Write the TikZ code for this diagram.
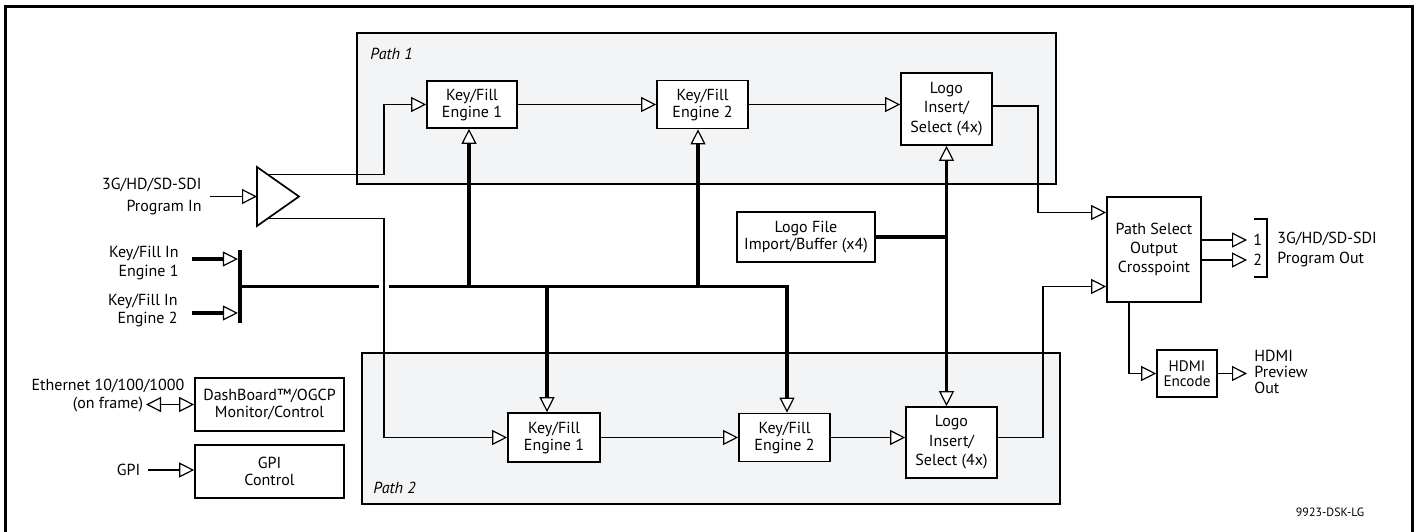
\documentclass[tikz,border=0pt]{standalone}
\usepackage{fontspec}
\setmainfont{PT Sans}
\usetikzlibrary{arrows.meta,positioning,shapes.geometric,calc}
\definecolor{pathgray}{RGB}{243,244,246}

\begin{document}
\begin{tikzpicture}[x=0.5pt,y=-0.5pt,every node/.style={font=\fontsize{8}{8.5}\selectfont},
  blk/.style={draw,fill=white,line width=0.85pt,align=center,inner sep=0pt},
  pathbox/.style={draw,fill=pathgray,line width=0.9pt,inner sep=0pt},
  lbl/.style={inner sep=0pt},
  sig/.style={line width=0.65pt},
  otri/.tip={Triangle[length=7.5pt,width=7.5pt,fill=white,line width=0.6pt]},
  arr/.style={sig,-otri},dblarr/.style={sig,otri-otri},
  bus/.style={line width=1.7pt},busarr/.style={bus,-otri},busdbl/.style={bus,otri-otri}]
\fill[white] (0,0) rectangle (1416,531);
\useasboundingbox (0,0) rectangle (1416,531);
\draw[line width=1.7pt] (5.5,560) -- (5.5,6.5) -- (1412.5,6.5) -- (1412.5,560);
% path panels
\node[pathbox,minimum width=349.5pt,minimum height=75.5pt] (path1) at (706.5,108.5) {};
\node[pathbox,minimum width=349pt,minimum height=75.5pt] (path2) at (711,428.5) {};
\node[lbl,anchor=base west,font=\fontsize{8}{9}\selectfont\itshape] (path1lbl) at (370,59) {Path 1};
\node[lbl,anchor=base west,font=\fontsize{8}{9}\selectfont\itshape] (path2lbl) at (373,493) {Path 2};
% blocks
\node[blk,minimum width=45pt,minimum height=23.5pt] (akf1) at (472,104.5) {Key/Fill\\Engine 1};
\node[blk,minimum width=45.5pt,minimum height=24pt] (akf2) at (702.5,104.5) {Key/Fill\\Engine 2};
\node[blk,minimum width=45.5pt,minimum height=36pt,font=\fontsize{8}{9.7}\selectfont] (alogo) at (946.5,109) {Logo\\Insert/\\Select (4x)};
\node[blk,minimum width=46pt,minimum height=24.5pt] (bkf1) at (554,437.5) {Key/Fill\\Engine 1};
\node[blk,minimum width=45.5pt,minimum height=24pt] (bkf2) at (784.5,437.5) {Key/Fill\\Engine 2};
\node[blk,minimum width=45.5pt,minimum height=35.5pt,font=\fontsize{8}{9.7}\selectfont] (blogo) at (951.5,442.5) {Logo\\Insert/\\Select (4x)};
\node[blk,minimum width=69pt,minimum height=25pt,font=\fontsize{8}{8.8}\selectfont] (logofile) at (806,237) {Logo File\\Import/Buffer (x4)};
\node[blk,minimum width=47pt,minimum height=52.5pt,font=\fontsize{8}{9.5}\selectfont] (xpt) at (1154,249.5) {Path Select\\Output\\Crosspoint};
\node[blk,minimum width=30pt,minimum height=23.5pt,font=\fontsize{7.6}{7.6}\selectfont] (hdmi) at (1187,373.5) {HDMI\\Encode};
\node[blk,minimum width=74.5pt,minimum height=26.5pt] (dash) at (269.5,404.5) {DashBoard™/OGCP\\Monitor/Control};
\node[blk,minimum width=74.5pt,minimum height=26.5pt,font=\fontsize{8}{8.8}\selectfont] (gpi) at (269.5,471.5) {GPI\\Control};
\node[draw,fill=white,line width=0.85pt,isosceles triangle,isosceles triangle stretches,inner sep=0pt,outer sep=0pt,minimum width=29.5pt,minimum height=21pt,anchor=lower side] (amp) at (257,196.5) {};
\node[fill,inner sep=0pt,minimum width=1.7pt,minimum height=36.5pt] (kfbar) at (240,286.5) {};
% labels
\node[lbl,align=right,anchor=east,font=\fontsize{8}{10.8}\selectfont] (pgmin) at (202,196.5) {3G/HD/SD-SDI\\Program In};
\node[lbl,align=right,anchor=east,font=\fontsize{8}{9.5}\selectfont] (kfin1) at (179,262.5) {Key/Fill In\\Engine 1};
\node[lbl,align=right,anchor=east,font=\fontsize{8}{9}\selectfont] (kfin2) at (178,310) {Key/Fill In\\Engine 2};
\node[lbl,align=center,font=\fontsize{8}{9}\selectfont] (eth) at (108,395.5) {Ethernet 10/100/1000\\(on frame)};
\node[lbl] (gpiin) at (128.5,470) {GPI};
\node[lbl,anchor=west] (out1) at (1253,240) {1};
\node[lbl,anchor=west] (out2) at (1253,260) {2};
\node[lbl,align=left,anchor=west,font=\fontsize{8}{10}\selectfont] (pgmout) at (1277,249) {3G/HD/SD-SDI\\Program Out};
\node[lbl,align=left,anchor=west,font=\fontsize{8}{7.9}\selectfont] (hdmiout) at (1254,372) {HDMI\\Preview\\Out};
\node[lbl,font=\fontsize{6}{7}\selectfont] (figid) at (1330,512) {9923-DSK-LG};
% helper points
\coordinate (splitx) at (384,0);
\coordinate (ampup) at ($(amp.left corner)!0.25!(amp.apex)$);
\coordinate (ampdn) at ($(amp.right corner)!0.25!(amp.apex)$);
\coordinate (pgmsrc) at (210,196.5);
\coordinate (kfsrc1) at (192,259);
\coordinate (kfsrc2) at (192,313);
\coordinate (ethsrc) at (146,404.5);
\coordinate (xin1) at ([yshift=18.5pt]xpt.west);
\coordinate (xin2) at ([yshift=-18.5pt]xpt.west);
\coordinate (akf1bus) at ([xshift=-1.5pt]akf1.south);
\coordinate (akf2bus) at ([xshift=-2.25pt]akf2.south);
\coordinate (bkf1bus) at ([xshift=-3.5pt]bkf1.north);
\coordinate (bkf2bus) at ([xshift=1.25pt]bkf2.north);
% signal paths
\draw[arr] (pgmsrc) -- (amp.lower side);
\draw[arr] (ampup) -- (ampup -| splitx) |- (akf1.west);
\draw[arr] (ampdn) -- (ampdn -| splitx) |- (bkf1.west);
\draw[arr] (akf1) -- (akf2);\draw[arr] (akf2) -- (akf2 -| alogo.west);
\draw[arr] (bkf1) -- (bkf2);\draw[arr] (bkf2) -- (bkf2 -| blogo.west);
\draw[arr] ([yshift=1.5pt]alogo.east) -- ++(45,0) |- (xin1);
\draw[arr] (blogo.east |- bkf2) -- ++(45,0) |- (xin2);
\draw[arr] (out1 -| xpt.east) -- ([xshift=-3pt]out1.west);
\draw[arr] (out2 -| xpt.east) -- ([xshift=-3pt]out2.west);
\draw[sig] (1254,219) -- (1267,219) -- (1267,277) -- (1254,277);
\draw[arr] ([xshift=-12.5pt]xpt.south) |- (hdmi.west);
\draw[arr,shorten >=3.5pt] (hdmi.east) -- (hdmi.east -| hdmiout.west);
\draw[dblarr] (ethsrc) -- (dash.west);
\draw[arr] ([xshift=3.5pt]gpiin.east) -- (gpiin.east -| gpi.west);
% key/fill bus
\draw[busarr] (kfsrc1) -- (kfsrc1 -| kfbar.west);\draw[busarr] (kfsrc2) -- (kfsrc2 -| kfbar.west);
\draw[bus,shorten >=2.5pt] (kfbar.center) -- (kfbar -| splitx);
\draw[busarr,shorten <=2.5pt] (kfbar -| splitx) -| (bkf2bus);
\draw[busarr] (akf1bus |- kfbar) -- (akf1bus);
\draw[busarr] (akf2bus |- kfbar) -- (akf2bus);
\draw[busarr] (bkf1bus |- kfbar) -- (bkf1bus);
\draw[busdbl] (alogo.south) -- (alogo.south |- blogo.north);
\draw[bus] (logofile.east) -- (logofile.east -| alogo.south);
\end{tikzpicture}
\end{document}
